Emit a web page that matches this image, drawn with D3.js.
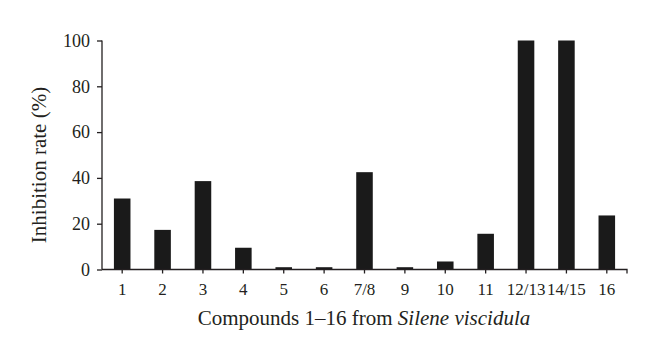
<!DOCTYPE html>
<html>
<head>
<meta charset="utf-8">
<script src="https://cdn.jsdelivr.net/npm/d3@7"></script>
<style>
  html, body { margin: 0; padding: 0; background: #fff; }
  svg { display: block; }
  text { font-family: "Liberation Serif", "DejaVu Serif", serif; fill: #231f20; }
</style>
</head>
<body>
<svg id="chart" width="660" height="362"></svg>
<script>
const categories = ["1", "2", "3", "4", "5", "6", "7/8", "9", "10", "11", "12/13", "14/15", "16"];
const inhibition = [31, 17.3, 38.6, 9.5, 1, 1, 42.5, 1, 3.5, 15.6, 100, 100, 23.6];
const yTicks = [0, 20, 40, 60, 80, 100];

const svg = d3.select("#chart");
const axisColor = "#231f20";
const barColor = "#1a1a1a";

const x = d3.scaleBand()
  .domain(categories)
  .range([102, 627])
  .paddingInner(0.59)
  .paddingOuter(0.295);

const y = d3.scaleLinear()
  .domain([0, 100])
  .range([269.5, 40.5]);

// Bars
svg.append("g")
  .selectAll("rect")
  .data(categories.map((c, i) => ({ c, v: inhibition[i] })))
  .join("rect")
  .attr("x", d => x(d.c))
  .attr("y", d => y(d.v))
  .attr("width", x.bandwidth())
  .attr("height", d => y(0) - y(d.v))
  .attr("fill", barColor);

// Y axis
const yAxis = svg.append("g")
  .attr("transform", "translate(102,0)")
  .call(d3.axisLeft(y).tickValues(yTicks).tickSize(5).tickPadding(7).tickFormat(d3.format("d")));
yAxis.select(".domain").attr("stroke", axisColor).attr("stroke-width", 1.3).attr("d", `M0,${y(100)}V${y(0)}`);
yAxis.selectAll(".tick line").attr("stroke", axisColor).attr("stroke-width", 1.3);
yAxis.selectAll(".tick text").attr("font-size", 18).attr("font-family", "Liberation Serif").attr("fill", axisColor);

// X axis
const xAxis = svg.append("g")
  .attr("transform", `translate(0,${y(0)})`)
  .call(d3.axisBottom(x).tickSize(4).tickPadding(9));
xAxis.select(".domain").attr("stroke", axisColor).attr("stroke-width", 1.3).attr("d", "M102,0H627V4");
xAxis.selectAll(".tick line").attr("stroke", axisColor).attr("stroke-width", 1.3);
xAxis.selectAll(".tick text").attr("font-size", 17).attr("font-family", "Liberation Serif").attr("fill", axisColor);

// Y title
svg.append("text")
  .attr("transform", "translate(46,165) rotate(-90)")
  .attr("text-anchor", "middle")
  .attr("font-size", 21)
  .text("Inhibition rate (%)");

// X title
const xt = svg.append("text")
  .attr("x", 364)
  .attr("y", 325)
  .attr("text-anchor", "middle")
  .attr("font-size", 21);
xt.append("tspan").text("Compounds 1–16 from ");
xt.append("tspan").attr("font-style", "italic").text("Silene viscidula");
</script>
</body>
</html>
